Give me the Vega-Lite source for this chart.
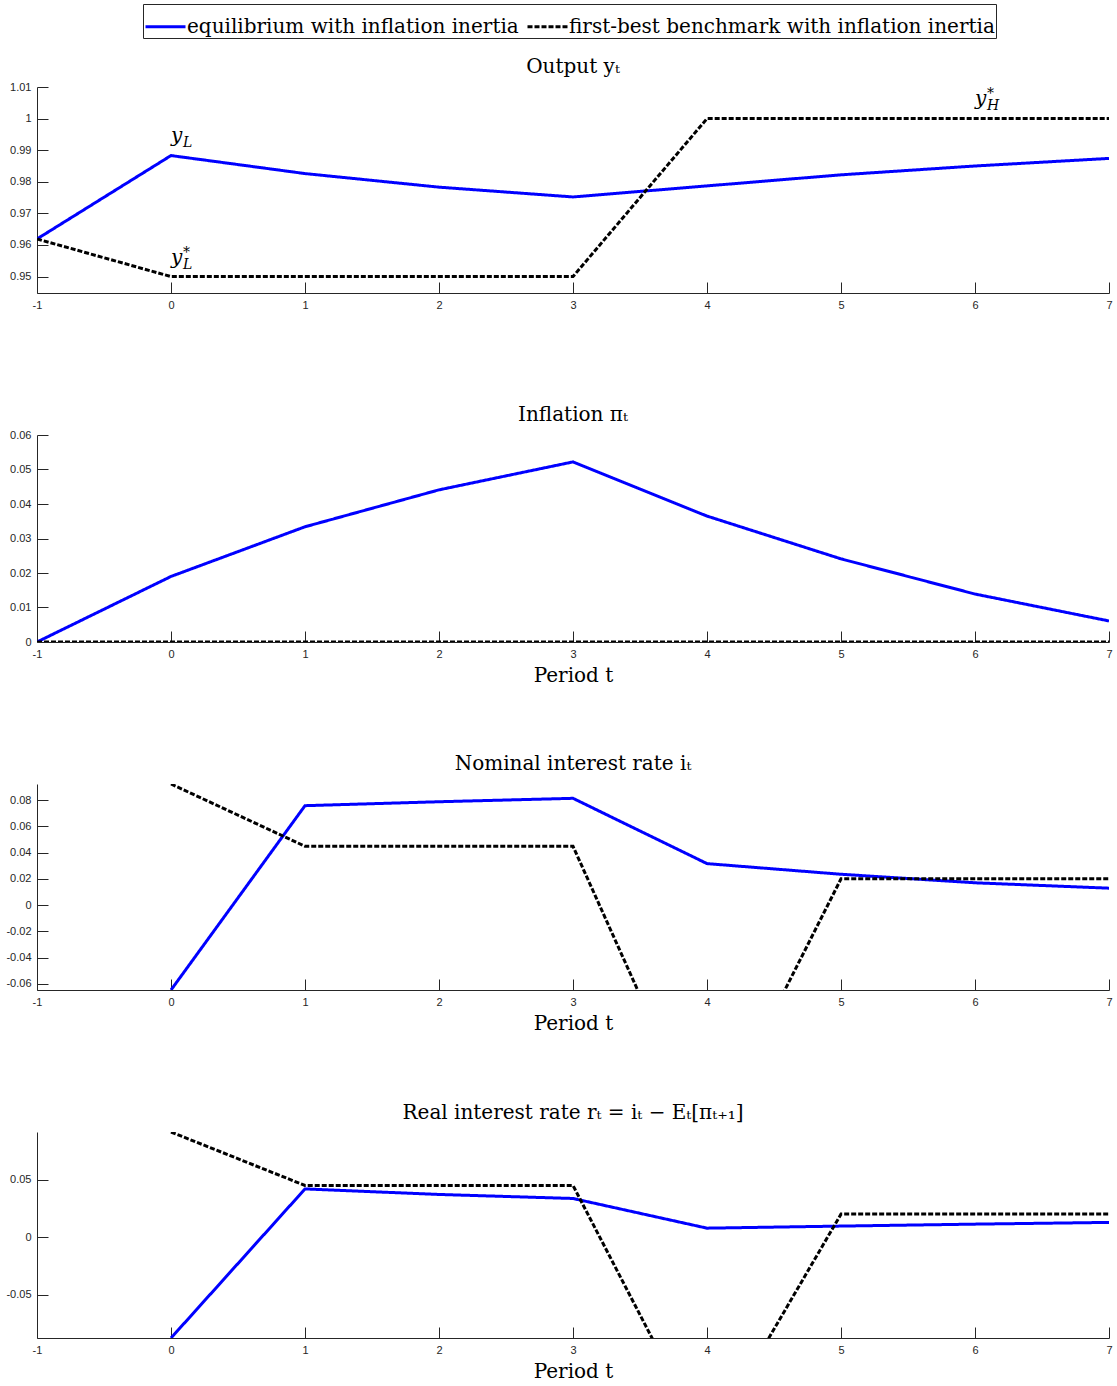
{
  "$schema": "https://vega.github.io/schema/vega-lite/v6.json",
  "padding": {"left": 5, "top": 3, "right": 2, "bottom": 3},
  "background": "white",
  "datasets": {
    "output": [
      {"t": -1, "s": "equilibrium with inflation inertia", "v": 0.9619},
      {"t": 0, "s": "equilibrium with inflation inertia", "v": 0.9883},
      {"t": 1, "s": "equilibrium with inflation inertia", "v": 0.9826},
      {"t": 2, "s": "equilibrium with inflation inertia", "v": 0.9783},
      {"t": 3, "s": "equilibrium with inflation inertia", "v": 0.9752},
      {"t": 4, "s": "equilibrium with inflation inertia", "v": 0.9787},
      {"t": 5, "s": "equilibrium with inflation inertia", "v": 0.9822},
      {"t": 6, "s": "equilibrium with inflation inertia", "v": 0.985},
      {"t": 7, "s": "equilibrium with inflation inertia", "v": 0.9874},
      {"t": -1, "s": "first-best benchmark with inflation inertia", "v": 0.9619},
      {"t": 0, "s": "first-best benchmark with inflation inertia", "v": 0.95},
      {"t": 1, "s": "first-best benchmark with inflation inertia", "v": 0.95},
      {"t": 2, "s": "first-best benchmark with inflation inertia", "v": 0.95},
      {"t": 3, "s": "first-best benchmark with inflation inertia", "v": 0.95},
      {"t": 4, "s": "first-best benchmark with inflation inertia", "v": 1.0},
      {"t": 5, "s": "first-best benchmark with inflation inertia", "v": 1.0},
      {"t": 6, "s": "first-best benchmark with inflation inertia", "v": 1.0},
      {"t": 7, "s": "first-best benchmark with inflation inertia", "v": 1.0}
    ],
    "inflation": [
      {"t": -1, "s": "equilibrium with inflation inertia", "v": 0},
      {"t": 0, "s": "equilibrium with inflation inertia", "v": 0.019},
      {"t": 1, "s": "equilibrium with inflation inertia", "v": 0.0334},
      {"t": 2, "s": "equilibrium with inflation inertia", "v": 0.0441},
      {"t": 3, "s": "equilibrium with inflation inertia", "v": 0.0522},
      {"t": 4, "s": "equilibrium with inflation inertia", "v": 0.0365},
      {"t": 5, "s": "equilibrium with inflation inertia", "v": 0.0241},
      {"t": 6, "s": "equilibrium with inflation inertia", "v": 0.0139},
      {"t": 7, "s": "equilibrium with inflation inertia", "v": 0.0061},
      {"t": -1, "s": "first-best benchmark with inflation inertia", "v": 0},
      {"t": 0, "s": "first-best benchmark with inflation inertia", "v": 0},
      {"t": 1, "s": "first-best benchmark with inflation inertia", "v": 0},
      {"t": 2, "s": "first-best benchmark with inflation inertia", "v": 0},
      {"t": 3, "s": "first-best benchmark with inflation inertia", "v": 0},
      {"t": 4, "s": "first-best benchmark with inflation inertia", "v": 0},
      {"t": 5, "s": "first-best benchmark with inflation inertia", "v": 0},
      {"t": 6, "s": "first-best benchmark with inflation inertia", "v": 0},
      {"t": 7, "s": "first-best benchmark with inflation inertia", "v": 0}
    ],
    "nominal": [
      {"t": 0, "s": "equilibrium with inflation inertia", "v": -0.0646},
      {"t": 1, "s": "equilibrium with inflation inertia", "v": 0.0757},
      {"t": 2, "s": "equilibrium with inflation inertia", "v": 0.0787},
      {"t": 3, "s": "equilibrium with inflation inertia", "v": 0.0813},
      {"t": 4, "s": "equilibrium with inflation inertia", "v": 0.0316},
      {"t": 5, "s": "equilibrium with inflation inertia", "v": 0.0235},
      {"t": 6, "s": "equilibrium with inflation inertia", "v": 0.017},
      {"t": 7, "s": "equilibrium with inflation inertia", "v": 0.0129},
      {"t": 0, "s": "first-best benchmark with inflation inertia", "v": 0.0922},
      {"t": 1, "s": "first-best benchmark with inflation inertia", "v": 0.0448},
      {"t": 2, "s": "first-best benchmark with inflation inertia", "v": 0.0448},
      {"t": 3, "s": "first-best benchmark with inflation inertia", "v": 0.0448},
      {"t": 4, "s": "first-best benchmark with inflation inertia", "v": -0.182},
      {"t": 5, "s": "first-best benchmark with inflation inertia", "v": 0.02},
      {"t": 6, "s": "first-best benchmark with inflation inertia", "v": 0.02},
      {"t": 7, "s": "first-best benchmark with inflation inertia", "v": 0.02}
    ],
    "real": [
      {"t": 0, "s": "equilibrium with inflation inertia", "v": -0.0877},
      {"t": 1, "s": "equilibrium with inflation inertia", "v": 0.0419},
      {"t": 2, "s": "equilibrium with inflation inertia", "v": 0.0371},
      {"t": 3, "s": "equilibrium with inflation inertia", "v": 0.0336},
      {"t": 4, "s": "equilibrium with inflation inertia", "v": 0.0078},
      {"t": 5, "s": "equilibrium with inflation inertia", "v": 0.0096},
      {"t": 6, "s": "equilibrium with inflation inertia", "v": 0.0113},
      {"t": 7, "s": "equilibrium with inflation inertia", "v": 0.0128},
      {"t": 0, "s": "first-best benchmark with inflation inertia", "v": 0.0914},
      {"t": 1, "s": "first-best benchmark with inflation inertia", "v": 0.0449},
      {"t": 2, "s": "first-best benchmark with inflation inertia", "v": 0.0449},
      {"t": 3, "s": "first-best benchmark with inflation inertia", "v": 0.0449},
      {"t": 4, "s": "first-best benchmark with inflation inertia", "v": -0.18},
      {"t": 5, "s": "first-best benchmark with inflation inertia", "v": 0.02},
      {"t": 6, "s": "first-best benchmark with inflation inertia", "v": 0.02},
      {"t": 7, "s": "first-best benchmark with inflation inertia", "v": 0.02}
    ],
    "ann": [
      {"t": 0, "v": 0.9926, "m": "y", "sub": "L", "sup": ""},
      {"t": 0, "v": 0.9541, "m": "y", "sub": "L", "sup": "*"},
      {"t": 6, "v": 1.0044, "m": "y", "sub": "H", "sup": "*"}
    ]
  },
  "vconcat": [
    {
      "width": 1072, "height": 206,
      "title": {"text": "Output yₜ", "offset": 4},
      "encoding": {
        "x": {"field": "t", "type": "quantitative", "scale": {"domain": [-1, 7], "nice": false, "zero": false}, "axis": {"values": [-1, 0, 1, 2, 3, 4, 5, 6, 7], "labelExpr": "'' + datum.value", "labelOverlap": false, "title": null}},
        "y": {"field": "v", "type": "quantitative", "scale": {"domain": [0.9448, 1.01], "nice": false, "zero": false}, "axis": {"values": [0.95, 0.96, 0.97, 0.98, 0.99, 1, 1.01], "labelExpr": "'' + datum.value", "labelOverlap": false, "title": null}}
      },
      "layer": [
        {
          "data": {"name": "output"},
          "mark": {"type": "line", "strokeWidth": 3, "clip": true},
          "encoding": {
            "color": {"field": "s", "type": "nominal", "scale": {"domain": ["equilibrium with inflation inertia", "first-best benchmark with inflation inertia"], "range": ["#0000ff", "#000000"]}, "legend": {"title": null, "orient": "none", "legendX": 106, "legendY": -83, "direction": "horizontal"}},
            "strokeDash": {"field": "s", "type": "nominal", "scale": {"domain": ["equilibrium with inflation inertia", "first-best benchmark with inflation inertia"], "range": [[1, 0], [5, 2]]}, "legend": {"title": null, "orient": "none", "legendX": 106, "legendY": -83, "direction": "horizontal"}}
          }
        },
        {
          "data": {"name": "ann"},
          "mark": {"type": "text", "font": "DejaVu Serif", "fontStyle": "italic", "fontSize": 20, "align": "left", "baseline": "alphabetic", "color": "#000"},
          "encoding": {"text": {"field": "m"}}
        },
        {
          "data": {"name": "ann"},
          "mark": {"type": "text", "font": "DejaVu Serif", "fontStyle": "italic", "fontSize": 14, "align": "left", "baseline": "alphabetic", "dx": 12, "dy": 5, "color": "#000"},
          "encoding": {"text": {"field": "sub"}}
        },
        {
          "data": {"name": "ann"},
          "mark": {"type": "text", "font": "DejaVu Serif", "fontSize": 14, "align": "left", "baseline": "alphabetic", "dx": 12, "dy": -7, "color": "#000"},
          "encoding": {"text": {"field": "sup"}}
        }
      ]
    },
    {
      "width": 1072, "height": 207,
      "title": {"text": "Inflation πₜ", "offset": 4.5},
      "data": {"name": "inflation"},
      "mark": {"type": "line", "strokeWidth": 3, "clip": true},
      "encoding": {
        "x": {"field": "t", "type": "quantitative", "scale": {"domain": [-1, 7], "nice": false, "zero": false}, "axis": {"values": [-1, 0, 1, 2, 3, 4, 5, 6, 7], "labelExpr": "'' + datum.value", "labelOverlap": false, "title": "Period t"}},
        "y": {"field": "v", "type": "quantitative", "scale": {"domain": [0, 0.06], "nice": false, "zero": false}, "axis": {"values": [0, 0.01, 0.02, 0.03, 0.04, 0.05, 0.06], "labelExpr": "'' + datum.value", "labelOverlap": false, "title": null}},
        "color": {"field": "s", "type": "nominal", "scale": {"domain": ["equilibrium with inflation inertia", "first-best benchmark with inflation inertia"], "range": ["#0000ff", "#000000"]}, "legend": {"title": null, "orient": "none", "legendX": 106, "legendY": -83, "direction": "horizontal"}},
        "strokeDash": {"field": "s", "type": "nominal", "scale": {"domain": ["equilibrium with inflation inertia", "first-best benchmark with inflation inertia"], "range": [[1, 0], [5, 2]]}, "legend": {"title": null, "orient": "none", "legendX": 106, "legendY": -83, "direction": "horizontal"}}
      }
    },
    {
      "width": 1072, "height": 206,
      "title": {"text": "Nominal interest rate iₜ", "offset": 10},
      "data": {"name": "nominal"},
      "mark": {"type": "line", "strokeWidth": 3, "clip": true},
      "encoding": {
        "x": {"field": "t", "type": "quantitative", "scale": {"domain": [-1, 7], "nice": false, "zero": false}, "axis": {"values": [-1, 0, 1, 2, 3, 4, 5, 6, 7], "labelExpr": "'' + datum.value", "labelOverlap": false, "title": "Period t"}},
        "y": {"field": "v", "type": "quantitative", "scale": {"domain": [-0.0646, 0.0922], "nice": false, "zero": false}, "axis": {"values": [-0.06, -0.04, -0.02, 0, 0.02, 0.04, 0.06, 0.08], "labelExpr": "'' + datum.value", "labelOverlap": false, "title": null}},
        "color": {"field": "s", "type": "nominal", "scale": {"domain": ["equilibrium with inflation inertia", "first-best benchmark with inflation inertia"], "range": ["#0000ff", "#000000"]}, "legend": {"title": null, "orient": "none", "legendX": 106, "legendY": -83, "direction": "horizontal"}},
        "strokeDash": {"field": "s", "type": "nominal", "scale": {"domain": ["equilibrium with inflation inertia", "first-best benchmark with inflation inertia"], "range": [[1, 0], [5, 2]]}, "legend": {"title": null, "orient": "none", "legendX": 106, "legendY": -83, "direction": "horizontal"}}
      }
    },
    {
      "width": 1072, "height": 206,
      "title": {"text": "Real interest rate rₜ = iₜ − Eₜ[πₜ₊₁]", "offset": 9},
      "data": {"name": "real"},
      "mark": {"type": "line", "strokeWidth": 3, "clip": true},
      "encoding": {
        "x": {"field": "t", "type": "quantitative", "scale": {"domain": [-1, 7], "nice": false, "zero": false}, "axis": {"values": [-1, 0, 1, 2, 3, 4, 5, 6, 7], "labelExpr": "'' + datum.value", "labelOverlap": false, "title": "Period t"}},
        "y": {"field": "v", "type": "quantitative", "scale": {"domain": [-0.0877, 0.0914], "nice": false, "zero": false}, "axis": {"values": [-0.05, 0, 0.05], "labelExpr": "'' + datum.value", "labelOverlap": false, "title": null}},
        "color": {"field": "s", "type": "nominal", "scale": {"domain": ["equilibrium with inflation inertia", "first-best benchmark with inflation inertia"], "range": ["#0000ff", "#000000"]}, "legend": {"title": null, "orient": "none", "legendX": 106, "legendY": -83, "direction": "horizontal"}},
        "strokeDash": {"field": "s", "type": "nominal", "scale": {"domain": ["equilibrium with inflation inertia", "first-best benchmark with inflation inertia"], "range": [[1, 0], [5, 2]]}, "legend": {"title": null, "orient": "none", "legendX": 106, "legendY": -83, "direction": "horizontal"}}
      }
    }
  ],
  "spacing": 142,
  "bounds": "flush",
  "config": {
    "view": {"stroke": null},
    "axis": {"grid": false, "domainColor": "#262626", "domainWidth": 1, "tickColor": "#262626", "labelColor": "#262626", "labelFont": "Liberation Sans", "labelFontSize": 11, "tickSize": -11, "labelPadding": 17, "labelOverlap": false, "labelFlush": false, "titleFont": "DejaVu Serif", "titleFontSize": 20, "titleFontWeight": "normal", "titleColor": "#000", "titlePadding": 6},
    "title": {"font": "DejaVu Serif", "fontSize": 20, "fontWeight": "normal", "color": "#000", "anchor": "middle"},
    "legend": {"labelFont": "DejaVu Serif", "labelFontSize": 20, "labelColor": "#000", "symbolType": "stroke", "symbolSize": 1600, "symbolStrokeWidth": 3, "strokeColor": "#262626", "padding": 1, "columnPadding": 2, "labelOffset": 0, "labelLimit": 1000}
  }
}
